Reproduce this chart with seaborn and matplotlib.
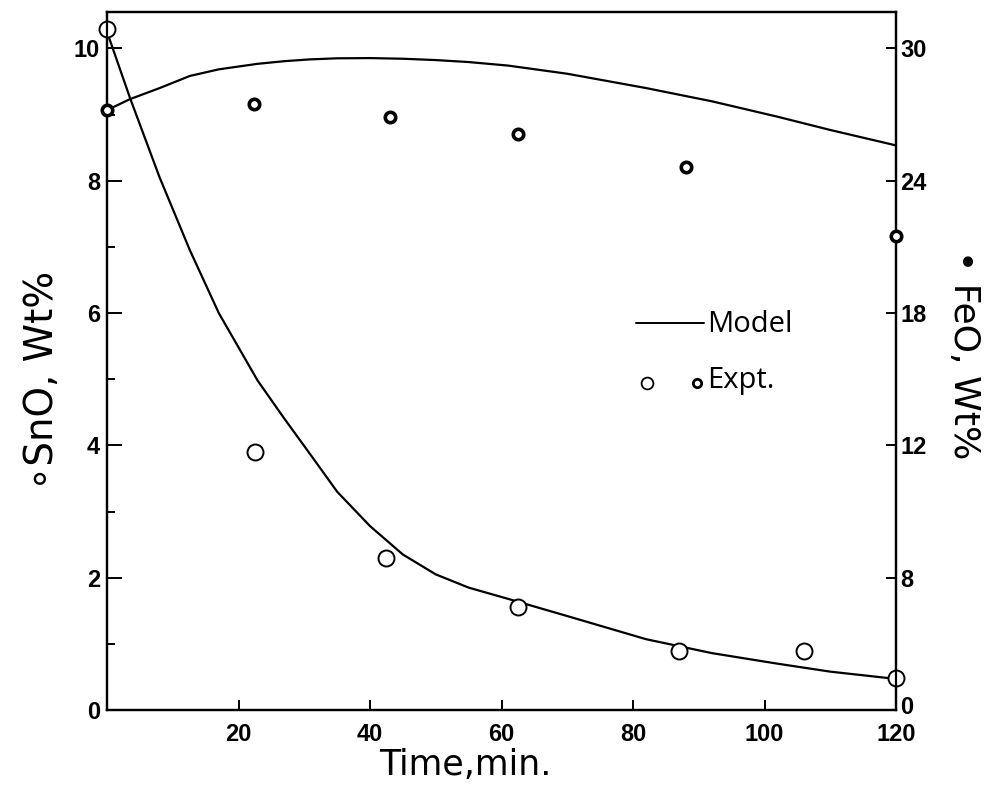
import matplotlib
matplotlib.use("Agg")
import matplotlib.pyplot as plt
import matplotlib.transforms as mtransforms
import pandas as pd
import seaborn as sns

# ---- data -------------------------------------------------------------
# experimental SnO (open circles, left axis)
t_sno = [0, 22.5, 42.5, 62.5, 87, 106, 120]
sno_expt = [10.3, 3.9, 2.3, 1.56, 0.89, 0.89, 0.48]

# experimental FeO (small bold circles, right axis)
t_feo = [0, 22.3, 43, 62.5, 88, 120]
feo_expt = [27.2, 27.5, 26.9, 26.1, 24.6, 21.5]

# model curves
t_model = [0, 3.5, 8, 12.6, 17, 22.9, 27, 30.8, 35, 40, 45, 50, 55, 61,
           70, 82, 92, 102, 110, 120]
sno_model = [10.25, 9.25, 8.05, 6.95, 6.0, 4.98, 4.4, 3.88, 3.3, 2.78,
             2.35, 2.05, 1.85, 1.68, 1.42, 1.07, 0.86, 0.7, 0.58, 0.47]
feo_model = [27.2, 27.7, 28.2, 28.75, 29.05, 29.3, 29.42, 29.5, 29.55,
             29.56, 29.53, 29.47, 29.38, 29.22, 28.85, 28.2, 27.6, 26.9,
             26.3, 25.6]

x_ticks = [20, 40, 60, 80, 100, 120]
sno_ticks = [0, 2, 4, 6, 8, 10]
feo_ticks = [0, 6, 12, 18, 24, 30]
feo_tick_labels = ["0", "8", "12", "18", "24", "30"]

# ---- styling ----------------------------------------------------------
sns.set_theme(style="white")
plt.rcParams["font.family"] = ["DejaVu Sans"]
plt.rcParams["axes.linewidth"] = 1.6
for key in ("text.color", "axes.labelcolor", "xtick.color", "ytick.color",
            "axes.edgecolor"):
    plt.rcParams[key] = "black"

tick_font = dict(family=["Liberation Sans Narrow", "Liberation Sans", "DejaVu Sans"],
                 weight="bold", size=17, color="black")
title_font = dict(family=["DejaVu Sans"], weight="normal", color="black")
key_font = dict(family=["Open Sans", "DejaVu Sans"], color="black")

fig = plt.figure(figsize=(9.89, 7.89), dpi=100)
ax = fig.add_axes([0.1082, 0.1001, 0.7978, 0.8847])
ax2 = ax.twinx()

model_df = pd.DataFrame({"t": t_model, "SnO": sno_model, "FeO": feo_model})
sno_df = pd.DataFrame({"t": t_sno, "SnO": sno_expt})
feo_df = pd.DataFrame({"t": t_feo, "FeO": feo_expt})

sns.lineplot(data=model_df, x="t", y="SnO", ax=ax, color="black",
             linewidth=1.6, sort=False, estimator=None)
sns.lineplot(data=model_df, x="t", y="FeO", ax=ax2, color="black",
             linewidth=1.6, sort=False, estimator=None)

ax.plot(sno_df["t"], sno_df["SnO"], linestyle="none", marker="o",
        markersize=11.5, markerfacecolor="white", markeredgecolor="black",
        markeredgewidth=1.4, clip_on=False, zorder=5)
ax2.plot(feo_df["t"], feo_df["FeO"], linestyle="none", marker="o",
         markersize=7.5, markerfacecolor="white", markeredgecolor="black",
         markeredgewidth=2.6, clip_on=False, zorder=5)

ax.set_xlim(0, 120)
ax.set_ylim(0, 10.55)
ax2.set_ylim(0, 31.65)

ax.set_xticks(x_ticks)
ax.set_xticklabels([str(v) for v in x_ticks], **tick_font)
ax.set_yticks(sno_ticks)
ax.set_yticklabels([str(v) for v in sno_ticks], **tick_font)
ax.set_yticks([1, 3, 5, 7, 9], minor=True)
ax2.set_yticks(feo_ticks)
ax2.set_yticklabels(feo_tick_labels, **tick_font)

ax.tick_params(axis="x", direction="in", length=7, width=1.4, pad=9,
               top=False, bottom=True)
ax.tick_params(axis="y", which="major", direction="in", length=11,
               width=1.4, pad=5, left=True, right=False)
ax.tick_params(axis="y", which="minor", direction="in", length=6,
               width=1.4, left=True, right=False)
ax2.tick_params(axis="y", direction="in", length=7, width=1.4, pad=3,
                right=True, left=False)

# lift the right-hand zero a little so it sits above the 120 label
lbl0 = ax2.get_yticklabels()[0]
lbl0.set_transform(lbl0.get_transform() +
                   mtransforms.ScaledTranslation(0, 5 / 100, fig.dpi_scale_trans))

for a in (ax, ax2):
    for s in a.spines.values():
        s.set_color("black")
        s.set_linewidth(1.6)
    a.set_xlabel("")
    a.set_ylabel("")
    a.grid(False)

# axis titles
fig.text(0.470, 0.030, "Time,min.", ha="center", va="center",
         fontsize=25, **title_font)
fig.text(0.042, 0.518, "\u2218SnO, Wt%", ha="center", va="center",
         rotation=90, fontsize=28, **title_font)
fig.text(0.975, 0.551, "\u2022 FeO, Wt%", ha="center", va="center",
         rotation=-90, fontsize=26, **title_font)

# key drawn inside the plot
ax.plot([0.671, 0.757], [0.554, 0.554], transform=ax.transAxes,
        color="black", linewidth=1.4)
ax.text(0.760, 0.552, "Model", transform=ax.transAxes, ha="left",
        va="center", fontsize=21, **key_font)
ax.plot([0.684], [0.469], transform=ax.transAxes, marker="o", markersize=8.5,
        markerfacecolor="white", markeredgecolor="black", markeredgewidth=1.3)
ax.plot([0.748], [0.469], transform=ax.transAxes, marker="o", markersize=6,
        markerfacecolor="white", markeredgecolor="black", markeredgewidth=2.0)
ax.text(0.761, 0.472, "Expt.", transform=ax.transAxes, ha="left",
        va="center", fontsize=21, **key_font)

fig.savefig("out.png", dpi=100)
